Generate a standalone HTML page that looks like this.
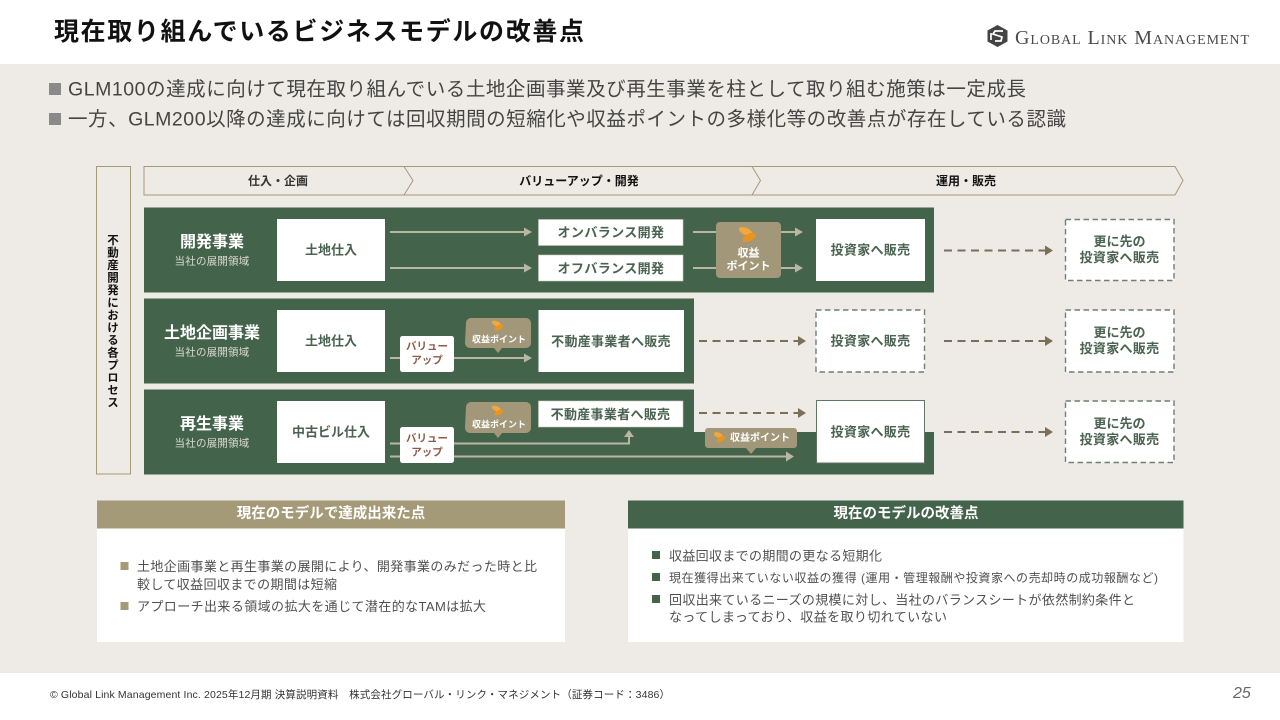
<!DOCTYPE html>
<html lang="ja"><head><meta charset="utf-8">
<style>
html,body{margin:0;padding:0;width:1280px;height:720px;overflow:hidden;background:#fff}
svg{display:block;position:absolute;left:0;top:0}
text{font-family:"Liberation Sans","Noto Sans CJK JP",sans-serif;dominant-baseline:central;transform:translateY(.7px)}
.m{text-anchor:middle}
.b{font-weight:700}
.g{fill:#4a6350;font-weight:700;font-size:13px;text-anchor:middle}
.w{fill:#fff;font-weight:700;text-anchor:middle}
.s{fill:#dcdcd2;font-size:10.500px;text-anchor:middle;letter-spacing:.2px}
.l{fill:#505050;font-size:13px}
.h{fill:#444;font-size:19.500px}
.v{fill:#8f5a4c;font-size:10.500px;font-weight:700;text-anchor:middle}
.dash{stroke:#7b6f58;stroke-width:2;stroke-dasharray:8 5.500;fill:none}
.line{stroke:#b9b7a3;stroke-width:2;fill:none}
.wb{fill:#fff;stroke:#c9c8ba;stroke-width:.6}
.db{fill:#fff;stroke:#6f7f72;stroke-width:1.400;stroke-dasharray:5.500 3.500}
.vt{position:absolute;left:94px;top:234px;width:35px;height:178px;writing-mode:vertical-rl;text-orientation:upright;font:700 11.500px/35px "Liberation Sans","Noto Sans CJK JP",sans-serif;letter-spacing:1px;color:#111;text-align:left}
</style></head><body>
<svg width="1280" height="720" viewBox="0 0 1280 720" xmlns="http://www.w3.org/2000/svg">
<defs>
<g id="coin"><ellipse cx="-2" cy="-3" rx="6" ry="3" transform="rotate(25 -2 -3)" fill="#f2a93b"/><ellipse cx="1" cy="2" rx="6" ry="3" transform="rotate(-28 1 2)" fill="#e8941f"/></g>
</defs>
<rect x="0" y="64" width="1280" height="609" fill="#eeebe6"/>

<text x="54" y="31.500" class="b" font-size="25" fill="#111" textLength="530">現在取り組んでいるビジネスモデルの改善点</text>

<path d="M997.500 25l10 5.500v11l-10 5.500-10-5.500v-11z" fill="#444"/>
<path d="M1003 31h-8l-2 3 9 3-1 4h-6M991 33v7" fill="none" stroke="#fff" stroke-width="1.700"/>
<text x="1015" y="37.500" font-size="20" fill="#4a4a4a" textLength="234" style="font-family:'Liberation Serif',serif;font-variant:small-caps">Global Link Management</text>

<rect x="49" y="83" width="12" height="12" fill="#8a8a8a"/>
<text x="68" y="89" class="h" textLength="958">GLM100の達成に向けて現在取り組んでいる土地企画事業及び再生事業を柱として取り組む施策は一定成長</text>
<rect x="49" y="113" width="12" height="12" fill="#8a8a8a"/>
<text x="68" y="119" class="h" textLength="998">一方、GLM200以降の達成に向けては回収期間の短縮化や収益ポイントの多様化等の改善点が存在している認識</text>

<rect x="96.500" y="166.500" width="34" height="307.500" fill="#eeebe6" stroke="#a59a78" stroke-width="1"/>

<path d="M144 166.500H1175l8 14-8 14.500H144z" fill="#eeebe6" stroke="#a59a78" stroke-width="1"/>
<path d="M404 166.500l9 14-9 14.500M752 166.500l8.500 14-8.500 14.500" fill="none" stroke="#a59a78" stroke-width="1"/>
<text x="278" y="180.500" class="b m" font-size="12" fill="#333">仕入・企画</text>
<text x="579" y="180.500" class="b m" font-size="12" fill="#111">バリューアップ・開発</text>
<text x="966" y="180.500" class="b m" font-size="12" fill="#111">運用・販売</text>

<rect x="144" y="207.500" width="790" height="85" fill="#44634b"/>
<rect x="144" y="298.500" width="550" height="85" fill="#44634b"/>
<path d="M144 389.500H694V432H934V474.500H144z" fill="#44634b"/>

<text x="212" y="242" class="w" font-size="16">開発事業</text>
<text x="212" y="261" class="s">当社の展開領域</text>
<text x="212" y="333" class="w" font-size="16">土地企画事業</text>
<text x="212" y="352" class="s">当社の展開領域</text>
<text x="212" y="424" class="w" font-size="16">再生事業</text>
<text x="212" y="443" class="s">当社の展開領域</text>

<rect x="277" y="219" width="108" height="62" fill="#fff"/>
<text x="331" y="249.500" class="g">土地仕入</text>
<rect x="277" y="310" width="108" height="62" fill="#fff"/>
<text x="331" y="340.500" class="g">土地仕入</text>
<rect x="277" y="401" width="108" height="62" fill="#fff"/>
<text x="331" y="431.500" class="g">中古ビル仕入</text>

<g class="line">
<path d="M390 232H527M390 268H527"/>
<path d="M693 232H716M693 268H716M780 232H798M780 268H798"/>
<path d="M390 358H527"/>
<path d="M390 443.500H629V436M390 456.500H788"/>
</g>
<g fill="#b9b7a3">
<path d="M524 227.500l8 4.500-8 4.500zM524 263.500l8 4.500-8 4.500zM795 227.500l8 4.500-8 4.500zM795 263.500l8 4.500-8 4.500zM524 353.500l8 4.500-8 4.500zM786 451.500l8 5-8 5zM624 437l5-7 5 7z"/>
</g>

<rect x="538.500" y="219.500" width="144.500" height="26" class="wb"/>
<text x="611" y="232" class="g" letter-spacing=".4">オンバランス開発</text>
<rect x="538.500" y="255" width="144.500" height="26" class="wb"/>
<text x="611" y="268" class="g" letter-spacing=".4">オフバランス開発</text>

<rect x="716" y="222" width="65" height="56" rx="4" fill="#a3977a"/>
<use href="#coin" transform="translate(748 235) scale(1.200)"/>
<text x="748.500" y="253" class="w" font-size="11">収益</text>
<text x="748.500" y="266" class="w" font-size="11">ポイント</text>

<rect x="816" y="219" width="109" height="62" fill="#fff"/>
<text x="870.500" y="249.500" class="g" letter-spacing=".3">投資家へ販売</text>

<path d="M944 250.500H1047" class="dash"/>
<path d="M1045 245.500l8 5-8 5z" fill="#7b6f58"/>
<rect x="1065.500" y="219.500" width="108.500" height="61" class="db"/>
<text x="1119.500" y="241" class="g">更に先の</text>
<text x="1119.500" y="257" class="g" letter-spacing=".3">投資家へ販売</text>

<rect x="400" y="336" width="54" height="36" rx="2.500" fill="#fff"/>
<text x="427" y="346" class="v">バリュー</text>
<text x="427" y="360" class="v">アップ</text>
<path d="M466 323a5 5 0 0 1 5-5h55a5 5 0 0 1 5 5v20a5 5 0 0 1-5 5h-24l-4 5-4-5h-24a5 5 0 0 1-5-5z" fill="#a3977a"/>
<use href="#coin" transform="translate(498 326) scale(.8)"/>
<text x="499" y="339" class="w" font-size="9">収益ポイント</text>
<rect x="538.500" y="310" width="145.500" height="62" fill="#fff"/>
<text x="611" y="341" class="g" letter-spacing=".3">不動産事業者へ販売</text>

<path d="M699 341H800" class="dash"/>
<path d="M798 336l8 5-8 5z" fill="#7b6f58"/>
<rect x="816" y="310" width="108.500" height="62" class="db"/>
<text x="870.500" y="340.500" class="g" letter-spacing=".3">投資家へ販売</text>
<path d="M944 341H1047" class="dash"/>
<path d="M1045 336l8 5-8 5z" fill="#7b6f58"/>
<rect x="1065.500" y="310" width="108.500" height="62" class="db"/>
<text x="1119.500" y="332" class="g">更に先の</text>
<text x="1119.500" y="348" class="g" letter-spacing=".3">投資家へ販売</text>

<rect x="400" y="427" width="54" height="36" rx="2.500" fill="#fff"/>
<text x="427" y="438" class="v">バリュー</text>
<text x="427" y="452" class="v">アップ</text>
<path d="M466 407a5 5 0 0 1 5-5h55a5 5 0 0 1 5 5v21a5 5 0 0 1-5 5h-24l-4 5-4-5h-24a5 5 0 0 1-5-5z" fill="#a3977a"/>
<use href="#coin" transform="translate(498 411) scale(.8)"/>
<text x="499" y="424" class="w" font-size="9">収益ポイント</text>
<rect x="538.500" y="401" width="144.500" height="26" class="wb"/>
<text x="610.500" y="414" class="g" letter-spacing=".3">不動産事業者へ販売</text>
<path d="M699 413H800" class="dash"/>
<path d="M798 408l8 5-8 5z" fill="#7b6f58"/>

<path d="M708 428h86a3 3 0 0 1 3 3v14a3 3 0 0 1-3 3h-38l-5 6-5-6h-38a3 3 0 0 1-3-3v-14a3 3 0 0 1 3-3z" fill="#a3977a"/>
<use href="#coin" transform="translate(720 437.500) scale(.8)"/>
<text x="760" y="438" class="w" font-size="10">収益ポイント</text>

<rect x="816.500" y="400.500" width="108" height="62.500" fill="#fff" stroke="#5f7565" stroke-width="1"/>
<text x="870.500" y="431.500" class="g" letter-spacing=".3">投資家へ販売</text>
<path d="M944 432H1047" class="dash"/>
<path d="M1045 427l8 5-8 5z" fill="#7b6f58"/>
<rect x="1065.500" y="401" width="108.500" height="61.500" class="db"/>
<text x="1119.500" y="423" class="g">更に先の</text>
<text x="1119.500" y="439" class="g" letter-spacing=".3">投資家へ販売</text>

<rect x="97" y="528" width="468" height="114" fill="#fff"/>
<rect x="97" y="500.500" width="468" height="28" fill="#a59a78"/>
<text x="331" y="513.500" class="w" font-size="14.500">現在のモデルで達成出来た点</text>
<rect x="120.500" y="562" width="8" height="8" fill="#a59a78"/>
<text x="137" y="566" class="l" textLength="400">土地企画事業と再生事業の展開により、開発事業のみだった時と比</text>
<text x="137" y="584" class="l" textLength="200">較して収益回収までの期間は短縮</text>
<rect x="120.500" y="602" width="8" height="8" fill="#a59a78"/>
<text x="137" y="606" class="l" textLength="349">アプローチ出来る領域の拡大を通じて潜在的なTAMは拡大</text>

<rect x="628" y="528" width="555.500" height="114" fill="#fff"/>
<rect x="628" y="500.500" width="555.500" height="28" fill="#44634b"/>
<text x="906" y="513.500" class="w" font-size="14.500">現在のモデルの改善点</text>
<rect x="652" y="551" width="8" height="8" fill="#44634b"/>
<text x="669" y="555.500" class="l" textLength="213">収益回収までの期間の更なる短期化</text>
<rect x="652" y="573" width="8" height="8" fill="#44634b"/>
<text x="669" y="577.500" class="l" style="font-size:12px" textLength="489">現在獲得出来ていない収益の獲得 (運用・管理報酬や投資家への売却時の成功報酬など)</text>
<rect x="652" y="595" width="8" height="8" fill="#44634b"/>
<text x="669" y="599.500" class="l" textLength="466">回収出来ているニーズの規模に対し、当社のバランスシートが依然制約条件と</text>
<text x="669" y="616.500" class="l" textLength="278">なってしまっており、収益を取り切れていない</text>

<text x="50" y="694.500" font-size="10.500" fill="#333" textLength="620">© Global Link Management Inc. 2025年12月期 決算説明資料　株式会社グローバル・リンク・マネジメント（証券コード：3486）</text>
<text x="1233" y="693" font-size="16" font-style="italic" fill="#666">25</text>
</svg>
<div class="vt">不動産開発における各プロセス</div>
</body></html>
